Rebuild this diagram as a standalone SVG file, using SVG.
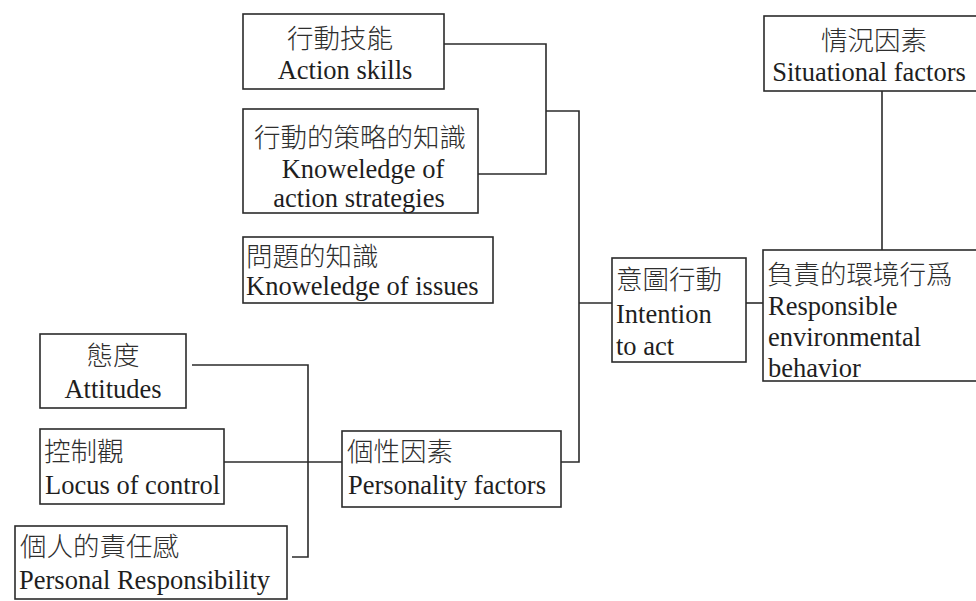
<svg xmlns="http://www.w3.org/2000/svg" width="976" height="601" viewBox="0 0 976 601">
<style>
.box { fill: #fff; stroke: #2b2b2b; stroke-width: 1.6; }
.en { font-family: "Liberation Serif", "Times New Roman", serif; font-size: 26.5px; fill: #1e1e1e; }
.zh { font-family: "Noto Sans CJK TC", "Noto Sans CJK JP", sans-serif; font-size: 26.5px; font-weight: 300; fill: #2e2e2e; }
.c { text-anchor: middle; }
.conn path { fill: none; stroke: #2b2b2b; stroke-width: 1.6; }
</style>
<rect width="976" height="601" fill="#fff"/>
<g class="conn" id="connectors">
  <path d="M444,44 H546 V174 H478"/>
  <path d="M546,111 H579 V462 H561"/>
  <path d="M579,303 H612"/>
  <path d="M746,303 H763"/>
  <path d="M882,91 V250"/>
  <path d="M192,365 H308 V557 H292"/>
  <path d="M224,462 H342"/>
</g>
<g id="n-action-skills">
  <rect class="box" x="243" y="14" width="201" height="75"/>
  <text class="zh c" x="340" y="48">行動技能</text>
  <text class="en c" x="345" y="79">Action skills</text>
</g>
<g id="n-action-strategies">
  <rect class="box" x="243" y="109" width="235" height="104"/>
  <text class="zh c" x="360" y="147">行動的策略的知識</text>
  <text class="en c" x="363" y="178">Knoweledge of</text>
  <text class="en c" x="359" y="207">action strategies</text>
</g>
<g id="n-issues">
  <rect class="box" x="243" y="237" width="250" height="66"/>
  <text class="zh" x="246" y="266">問題的知識</text>
  <text class="en" x="246" y="295">Knoweledge of issues</text>
</g>
<g id="n-intention">
  <rect class="box" x="612" y="258" width="134" height="104"/>
  <text class="zh" x="616" y="289">意圖行動</text>
  <text class="en" x="616" y="323">Intention</text>
  <text class="en" x="616" y="355">to act</text>
</g>
<g id="n-situational">
  <rect class="box" x="764" y="16" width="230" height="75"/>
  <text class="zh c" x="874" y="50">情況因素</text>
  <text class="en c" x="869" y="81">Situational factors</text>
</g>
<g id="n-responsible">
  <rect class="box" x="763" y="250" width="230" height="131"/>
  <text class="zh" x="767" y="284">負責的環境行爲</text>
  <text class="en" x="768" y="315">Responsible</text>
  <text class="en" x="768" y="346">environmental</text>
  <text class="en" x="768" y="377">behavior</text>
</g>
<g id="n-attitudes">
  <rect class="box" x="40" y="334" width="146" height="74"/>
  <text class="zh c" x="113" y="365">態度</text>
  <text class="en c" x="113" y="398">Attitudes</text>
</g>
<g id="n-locus">
  <rect class="box" x="40" y="429" width="184" height="75"/>
  <text class="zh" x="44" y="461">控制觀</text>
  <text class="en" x="45" y="494">Locus of control</text>
</g>
<g id="n-personality">
  <rect class="box" x="342" y="431" width="219" height="76"/>
  <text class="zh" x="347" y="461">個性因素</text>
  <text class="en" x="348" y="494">Personality factors</text>
</g>
<g id="n-personal-responsibility">
  <rect class="box" x="15" y="526" width="272" height="73"/>
  <text class="zh" x="20" y="556">個人的責任感</text>
  <text class="en" x="19" y="589">Personal Responsibility</text>
</g>
</svg>
